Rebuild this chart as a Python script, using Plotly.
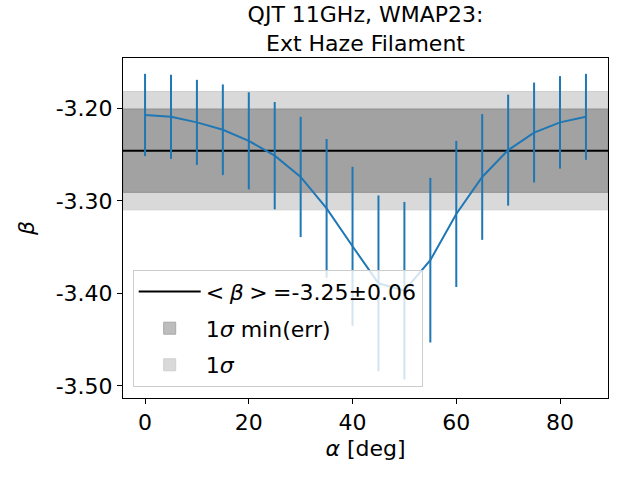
import plotly.graph_objects as go

alpha = [0, 5, 10, 15, 20, 25, 30, 35, 40, 45, 50, 55, 60, 65, 70, 75, 80, 85]
beta = [-3.207, -3.209, -3.215, -3.223, -3.235, -3.251, -3.274, -3.308, -3.349,
        -3.389, -3.397, -3.364, -3.314, -3.274, -3.245, -3.226, -3.215, -3.209]
beta_err = [0.0445, 0.0455, 0.046, 0.049, 0.0525, 0.058, 0.065, 0.075, 0.086,
            0.095, 0.096, 0.089, 0.079, 0.068, 0.060, 0.054, 0.050, 0.0465]
beta_mean = -3.2456
sigma_min = 0.045
sigma_full = 0.064
ytick_vals = [-3.20, -3.30, -3.40, -3.50]
ytick_text = ["-3.20", "-3.30", "-3.40", "-3.50"]
xtick_vals = [0, 20, 40, 60, 80]

FONT = "DejaVu Sans"
BLUE = "#1f77b4"
FS = 22
SP = "\u2005"

fig = go.Figure()
fig.add_trace(go.Scatter(
    x=alpha, y=beta, mode="lines",
    line=dict(color=BLUE, width=2),
    error_y=dict(type="data", array=beta_err, visible=True, color=BLUE,
                 thickness=2, width=0),
    showlegend=False, hoverinfo="skip"))

fig.add_shape(type="rect", xref="x domain", yref="y", x0=0, x1=1,
              y0=beta_mean - sigma_full, y1=beta_mean + sigma_full,
              fillcolor="#d9d9d9", line=dict(color="#cfcfcf", width=1),
              layer="below", showlegend=True, name="1<i>σ</i>",
              legendrank=3, legendgroup="c")
fig.add_shape(type="rect", xref="x domain", yref="y", x0=0, x1=1,
              y0=beta_mean - sigma_min, y1=beta_mean + sigma_min,
              fillcolor="#a2a2a2", line=dict(color="#8f8f8f", width=1),
              layer="below", showlegend=False)
fig.add_shape(type="line", xref="x domain", yref="y", x0=0, x1=1,
              y0=beta_mean, y1=beta_mean,
              line=dict(color="black", width=2), layer="below",
              showlegend=True,
              name=f"&lt;{SP}<i>β</i>{SP}&gt;{SP}=-3.25±0.06",
              legendrank=1, legendgroup="a")
# legend proxy for min(err) band (lighter, as drawn in the legend)
fig.add_shape(type="rect", xref="x domain", yref="y", x0=0, x1=0,
              y0=beta_mean, y1=beta_mean, fillcolor="#bdbdbd",
              line=dict(color="#a8a8a8", width=1), layer="below",
              showlegend=True, name="1<i>σ</i> min(err)", legendrank=2,
              legendgroup="b")

fig.update_layout(
    width=640, height=480,
    margin=dict(l=123, r=32, t=58, b=82, pad=0),
    paper_bgcolor="white", plot_bgcolor="white",
    font=dict(family=FONT, size=FS, color="black"),
    title=dict(text="QJT 11GHz, WMAP23:<br>Ext Haze Filament",
               x=(123 + 485 / 2) / 640, xanchor="center",
               y=1 - 22 / 480, yanchor="top", yref="container",
               font=dict(family=FONT, size=FS)),
    xaxis=dict(range=[-4.25, 89.25], tickvals=xtick_vals,
               showgrid=False, zeroline=False, showline=True, mirror=True,
               linecolor="black", linewidth=1, ticks="outside", ticklen=5,
               tickcolor="black", tickfont=dict(size=FS),
               title=dict(text="<i>α</i> [deg]", font=dict(size=FS), standoff=6)),
    yaxis=dict(range=[-3.513, -3.1454], tickvals=ytick_vals, ticktext=ytick_text,
               showgrid=False, zeroline=False, showline=True, mirror=True,
               linecolor="black", linewidth=1, ticks="outside", ticklen=5,
               tickcolor="black", tickfont=dict(size=FS),
               title=dict(text="<i>β</i>", font=dict(size=FS), standoff=14)),
    legend=dict(x=0.02, y=0.033, xanchor="left", yanchor="bottom",
                bgcolor="rgba(255,255,255,0.8)", bordercolor="#cccccc",
                borderwidth=1, font=dict(family=FONT, size=FS),
                itemwidth=62, traceorder="grouped", tracegroupgap=5),
)

fig.write_html("out.html", config={"displayModeBar": False},
               post_script="document.body.style.margin='0';")
